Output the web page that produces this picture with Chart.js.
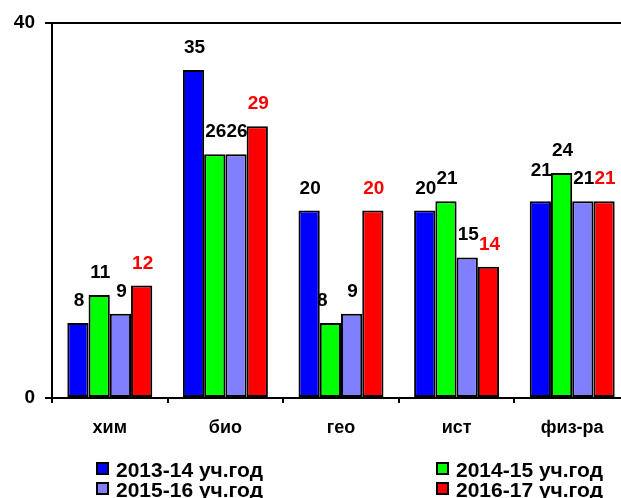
<!DOCTYPE html>
<html>
<head>
<meta charset="utf-8">
<script src="https://cdn.jsdelivr.net/npm/chart.js@4"></script>
<style>
  html, body { margin: 0; padding: 0; background: #fff; overflow: hidden; }
  #wrap { position: relative; width: 640px; height: 498px; }
</style>
</head>
<body>
<div id="wrap"><canvas id="chart" width="640" height="498"></canvas></div>
<script>
// subjects and school years
const subjects = ['хим', 'био', 'гео', 'ист', 'физ-ра'];
const years = ['2013-14 уч.год', '2014-15 уч.год', '2015-16 уч.год', '2016-17 уч.год'];

const y2013 = [8, 35, 20, 20, 21];
const y2014 = [11, 26, 8, 21, 24];
const y2015 = [9, 26, 9, 15, 21];
const y2016 = [12, 29, 20, 14, 21];

const yTicks = [0, 40];

const colors = ['#0000FF', '#00FF00', '#8080FF', '#FF0000'];
const FONT = "'Liberation Sans', Arial, sans-serif";

// values above bars, last series in red
const valueLabels = {
    id: 'valueLabels',
    afterDatasetsDraw(chart) {
        const ctx = chart.ctx;
        // a couple of labels were nudged in the original to avoid overlaps
        const nudge = { '0-4': [0, -8], '1-2': [-9, 0] };
        ctx.save();
        ctx.font = 'bold 19px ' + FONT;
        ctx.textAlign = 'center';
        ctx.textBaseline = 'alphabetic';
        chart.data.datasets.forEach((ds, i) => {
            ctx.fillStyle = i === 3 ? '#FF0000' : '#000';
            chart.getDatasetMeta(i).data.forEach((bar, j) => {
                const n = nudge[i + '-' + j] || [0, 0];
                ctx.fillText(ds.data[j], bar.x + 1 + n[0], bar.y - 17 + n[1]);
            });
        });
        ctx.restore();
    }
};

// two-column legend under the axis
const gridLegend = {
    id: 'gridLegend',
    afterDraw(chart) {
        const ctx = chart.ctx;
        const cols = [97, 437];
        const rows = [468, 488];
        ctx.save();
        ctx.font = 'bold 21px ' + FONT;
        ctx.textBaseline = 'middle';
        chart.data.datasets.forEach((ds, i) => {
            const x = cols[i % 2], y = rows[Math.floor(i / 2)];
            ctx.fillStyle = ds.backgroundColor;
            ctx.fillRect(x, y - 5, 11, 11);
            ctx.lineWidth = 2;
            ctx.strokeStyle = '#000';
            ctx.strokeRect(x, y - 5, 11, 11);
            ctx.fillStyle = '#000';
            ctx.fillText(ds.label, x + 19, y + 3);
        });
        ctx.restore();
    }
};

const series = [y2013, y2014, y2015, y2016];

new Chart(document.getElementById('chart'), {
    type: 'bar',
    data: {
        labels: subjects,
        datasets: series.map((d, i) => ({
            label: years[i],
            data: d,
            backgroundColor: colors[i],
            borderColor: '#000',
            borderWidth: 2,
            borderSkipped: false,
            barPercentage: 1,
            categoryPercentage: 0.735
        }))
    },
    options: {
        responsive: false,
        animation: false,
        layout: { padding: { left: 0, right: 10, top: 23, bottom: 0 } },
        plugins: { legend: { display: false }, tooltip: { enabled: false } },
        scales: {
            x: {
                grid: { display: true, offset: true, drawOnChartArea: false, drawTicks: true, tickLength: 5, color: '#000', lineWidth: 2 },
                border: { display: true, color: '#000', width: 2 },
                ticks: { color: '#000', font: { family: FONT, size: 18, weight: 'bold' }, padding: 14 },
                afterFit(s) { s.height = 100; }
            },
            y: {
                min: 0, max: 40,
                afterBuildTicks(s) { s.ticks = yTicks.map(v => ({ value: v })); },
                grid: { color: '#000', lineWidth: 2, drawOnChartArea: true, tickLength: 7 },
                border: { display: true, color: '#000', width: 2 },
                ticks: { color: '#000', font: { family: FONT, size: 19, weight: 'bold' }, padding: 10 },
                afterFit(s) { s.width = 52; }
            }
        }
    },
    plugins: [valueLabels, gridLegend]
});
</script>
</body>
</html>
